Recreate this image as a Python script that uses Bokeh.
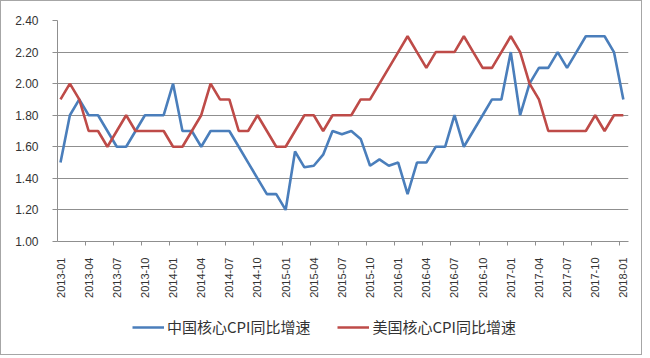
import math
from bokeh.plotting import figure
from bokeh.layouts import column
from bokeh.models import (ColumnDataSource, FixedTicker, Range1d, Legend, LegendItem,
                          NumeralTickFormatter)
from bokeh.embed import file_html
from bokeh.resources import INLINE

# Monthly, 2013-01 .. 2018-01
months = [f"{y}-{m:02d}" for y in range(2013, 2019) for m in range(1, 13)][:61]

china_core_cpi = [1.5, 1.8, 1.9, 1.8, 1.8, 1.7, 1.6, 1.6, 1.7, 1.8, 1.8, 1.8,
                  2.0, 1.7, 1.7, 1.6, 1.7, 1.7, 1.7, 1.6, 1.5, 1.4, 1.3, 1.3,
                  1.2, 1.57, 1.47, 1.48, 1.55, 1.70, 1.68, 1.70, 1.65, 1.48, 1.52, 1.48,
                  1.5, 1.3, 1.5, 1.5, 1.6, 1.6, 1.8, 1.6, 1.7, 1.8, 1.9, 1.9,
                  2.2, 1.8, 2.0, 2.1, 2.1, 2.2, 2.1, 2.2, 2.3, 2.3, 2.3, 2.2,
                  1.9]
us_core_cpi = [1.9, 2.0, 1.9, 1.7, 1.7, 1.6, 1.7, 1.8, 1.7, 1.7, 1.7, 1.7,
               1.6, 1.6, 1.7, 1.8, 2.0, 1.9, 1.9, 1.7, 1.7, 1.8, 1.7, 1.6,
               1.6, 1.7, 1.8, 1.8, 1.7, 1.8, 1.8, 1.8, 1.9, 1.9, 2.0, 2.1,
               2.2, 2.3, 2.2, 2.1, 2.2, 2.2, 2.2, 2.3, 2.2, 2.1, 2.1, 2.2,
               2.3, 2.2, 2.0, 1.9, 1.7, 1.7, 1.7, 1.7, 1.7, 1.8, 1.7, 1.8,
               1.8]
series_names = ["中国核心CPI同比增速", "美国核心CPI同比增速"]
series_colors = ["#4a7ebb", "#be4b48"]
y_ticks = [1.0, 1.2, 1.4, 1.6, 1.8, 2.0, 2.2, 2.4]

idx = list(range(len(months)))
src = ColumnDataSource(dict(x=idx, cn=china_core_cpi, us=us_core_cpi, m=months))

p = figure(width=640, height=305, output_backend="svg", toolbar_location=None,
           x_range=Range1d(-0.32, 60.55), y_range=Range1d(1.0, 2.4),
           min_border_left=56, min_border_right=13, min_border_top=19,
           min_border_bottom=65)
p.outline_line_color = None
p.background_fill_color = "white"
p.border_fill_color = "white"

GRID = "#8f8f8f"
p.xgrid.grid_line_color = None
p.ygrid.grid_line_color = GRID
p.ygrid.grid_line_width = 1
p.ygrid.ticker = FixedTicker(ticks=y_ticks)

p.line("x", "cn", source=src, line_color=series_colors[0], line_width=2.6)
p.line("x", "us", source=src, line_color=series_colors[1], line_width=2.6)

# y axis
ya = p.yaxis[0]
ya.ticker = FixedTicker(ticks=y_ticks)
ya.formatter = NumeralTickFormatter(format="0.00")
ya.axis_line_color = GRID
ya.major_tick_line_color = GRID
ya.major_tick_out = 5
ya.major_tick_in = 0
ya.minor_tick_line_color = None
ya.major_label_standoff = 14
ya.major_label_text_font = "Liberation Sans"
ya.major_label_text_font_size = "12px"
ya.major_label_text_color = "#333333"

# x axis
tick_idx = idx[::3]
xa = p.xaxis[0]
xa.ticker = FixedTicker(ticks=tick_idx, minor_ticks=[i - 0.38 for i in tick_idx])
xa.major_label_overrides = {i: months[i] for i in tick_idx}
xa.major_label_orientation = math.pi / 2
xa.axis_line_color = GRID
xa.major_tick_line_color = None
xa.minor_tick_line_color = GRID
xa.minor_tick_out = 4
xa.minor_tick_in = 0
xa.major_label_standoff = 10
xa.major_label_text_font = "Liberation Sans"
xa.major_label_text_font_size = "11px"
xa.major_label_text_color = "#333333"

# legend strip: same series, drawn out of view, only their legend swatches show
q = figure(width=640, height=48, output_backend="svg", toolbar_location=None,
           x_range=Range1d(-0.32, 60.55), y_range=Range1d(10, 11),
           x_axis_location=None, y_axis_location=None,
           min_border_left=0, min_border_right=0, min_border_top=0, min_border_bottom=0)
q.outline_line_color = None
q.xgrid.visible = False
q.ygrid.visible = False
q.border_fill_color = "white"
l_cn = q.line("x", "cn", source=src, line_color=series_colors[0], line_width=2.6)
l_us = q.line("x", "us", source=src, line_color=series_colors[1], line_width=2.6)

legend = Legend(items=[LegendItem(label=series_names[0], renderers=[l_cn]),
                       LegendItem(label=series_names[1], renderers=[l_us])],
                orientation="horizontal", location=(75, 17),
                padding=0, margin=0, spacing=27, glyph_width=32, glyph_height=18,
                label_standoff=3, border_line_color=None, background_fill_alpha=0,
                label_text_font="Noto Sans CJK SC", label_text_font_size="15px",
                label_text_color="#333333")
q.add_layout(legend, "center")

layout = column(p, q, spacing=0, styles={"border": "1px solid #a6a6a6"})

open("out.html", "w").write(file_html(layout, INLINE))
